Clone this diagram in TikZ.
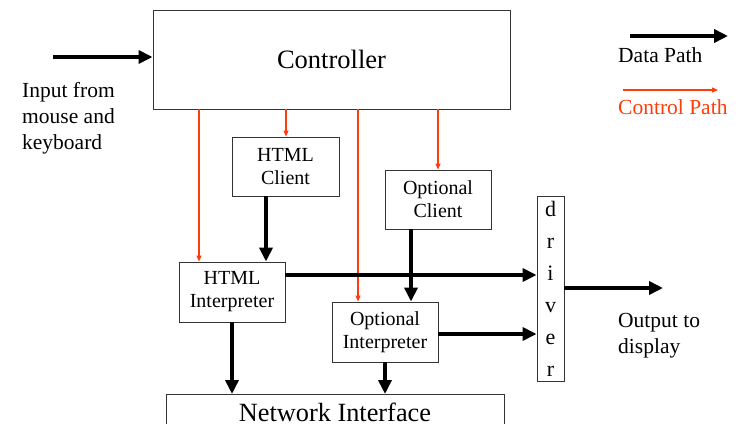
\documentclass[tikz,border=0pt]{standalone}
\usepackage{fontspec}
\setmainfont{Liberation Serif}
\usetikzlibrary{arrows.meta}
\definecolor{ctrlred}{RGB}{255,60,10}
\tikzset{
  blk/.style={draw=black!80, line width=0.9pt, fill=white, inner sep=0pt,
              align=center, font=\fontsize{20}{23}\selectfont},
  datapath/.style={line width=4.6pt, -{Triangle[length=14pt,width=13pt]}},
  ctrlpath/.style={draw=ctrlred, line width=1.1pt, -{Triangle[length=6pt,width=5pt]}},
  lbl/.style={inner sep=0pt, align=left, anchor=base west, font=\fontsize{21.5}{26}\selectfont}
}
\begin{document}
\begin{tikzpicture}[x=1pt,y=-1pt]
\useasboundingbox (0,0) rectangle (738,423);
\clip (0,0) rectangle (738,423);

% blocks
\node[blk, minimum width=357, minimum height=99, font=\fontsize{26.5}{30}\selectfont] (ctrl) at (331.5,59.5) {Controller};
\node[blk, minimum width=107, minimum height=59] (hc) at (285.5,166.5) {HTML\\Client};
\node[blk, minimum width=106, minimum height=59] (oc) at (438,199.5) {Optional\\Client};
\node[blk, minimum width=106, minimum height=60] (hi) at (232,292) {HTML\\Interpreter};
\node[blk, minimum width=106, minimum height=60] (oi) at (385,332) {Optional\\Interpreter};
\node[blk, minimum width=27, minimum height=185, font=\fontsize{22}{32}\selectfont] (drv) at (550.5,288.5) {d\\r\\i\\v\\e\\r};
\node[blk, minimum width=338, minimum height=60, anchor=north] (net) at (335,394) {};
\node[inner sep=0pt, anchor=base, font=\fontsize{26.3}{30}\selectfont] (nettext) at (335,421) {Network Interface};

% labels (base anchor sits on the last line)
\node[lbl] (inlbl) at (22,149) {Input from\\mouse and\\keyboard};
\node[lbl] (outlbl) at (618,353) {Output to\\display};
\node[lbl] (dlbl) at (618,62) {Data Path};
\node[lbl, text=ctrlred] (clbl) at (618,114) {Control Path};

% free ends
\coordinate (inp) at (53,57);
\coordinate (outp) at (663,288);
\coordinate (dl0) at (630,36);
\coordinate (dl1) at (728,36);
\coordinate (cl0) at (623,90);
\coordinate (cl1) at (718,90);

% legend
\draw[datapath] (dl0) -- (dl1);
\draw[ctrlpath] (cl0) -- (cl1);

% control paths
\draw[ctrlpath] (ctrl.south -| 199,0) -- (hi.north -| 199,0);
\draw[ctrlpath] (ctrl.south -| 286,0) -- (hc.north -| 286,0);
\draw[ctrlpath] (ctrl.south -| 358,0) -- (oi.north -| 358,0);
\draw[ctrlpath] (ctrl.south -| 438,0) -- (oc.north -| 438,0);

% data paths
\draw[datapath] (inp) -- (ctrl.west |- inp);
\draw[datapath] (hc.south -| 266,0) -- (hi.north -| 266,0);
\draw[datapath] (oc.south -| 411,0) -- (oi.north -| 411,0);
\draw[datapath] (hi.east |- 0,275) -- (drv.west |- 0,275);
\draw[datapath] (oi.east |- 0,334) -- (drv.west |- 0,334);
\draw[datapath] (hi.south -| 232,0) -- (net.north -| 232,0);
\draw[datapath] (oi.south -| 385,0) -- (net.north -| 385,0);
\draw[datapath] (drv.east |- outp) -- (outp);
\end{tikzpicture}
\end{document}
